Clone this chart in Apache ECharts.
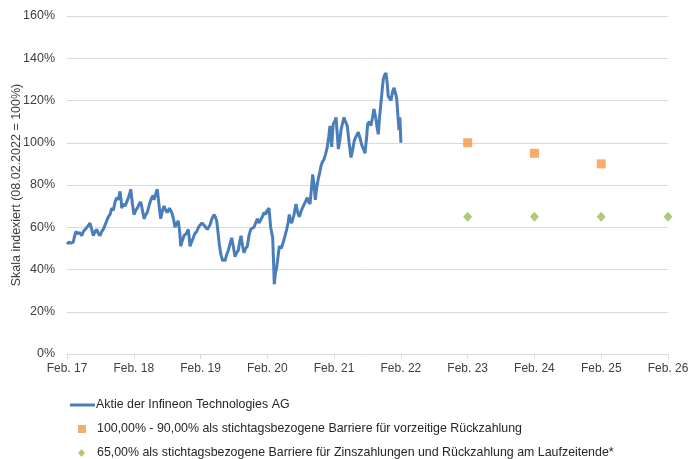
<!DOCTYPE html>
<html>
<head>
<meta charset="utf-8">
<script src="https://cdn.jsdelivr.net/npm/echarts@6/dist/echarts.min.js"></script>
<style>html,body{margin:0;padding:0;background:#fff}#c{width:688px;height:459px}</style>
</head>
<body>
<div id="c"></div>
<script>
// years since 08.02.2017
const stockYears = [0.00,0.03,0.06,0.094,0.115,0.135,0.16,0.19,0.22,0.245,0.27,0.30,0.344,0.37,0.394,0.42,0.445,0.47,0.494,0.52,0.544,0.57,0.594,0.62,0.644,0.67,0.693,0.72,0.744,0.77,0.794,0.81,0.819,0.845,0.869,0.895,0.918,0.94,0.954,0.98,1.003,1.03,1.053,1.08,1.104,1.13,1.153,1.18,1.202,1.235,1.268,1.29,1.303,1.33,1.352,1.38,1.403,1.43,1.453,1.48,1.502,1.535,1.568,1.595,1.617,1.645,1.667,1.69,1.703,1.73,1.752,1.785,1.816,1.83,1.842,1.865,1.891,1.915,1.942,1.97,1.992,2.02,2.052,2.075,2.101,2.12,2.141,2.17,2.201,2.22,2.242,2.26,2.281,2.305,2.332,2.35,2.366,2.39,2.415,2.44,2.466,2.49,2.516,2.54,2.565,2.585,2.606,2.63,2.650,2.675,2.700,2.725,2.751,2.775,2.800,2.825,2.850,2.875,2.900,2.925,2.950,2.975,2.999,3.025,3.050,3.080,3.095,3.104,3.12,3.140,3.16,3.179,3.21,3.239,3.265,3.290,3.31,3.329,3.345,3.364,3.40,3.429,3.455,3.479,3.51,3.538,3.57,3.598,3.62,3.639,3.66,3.679,3.70,3.718,3.74,3.763,3.785,3.804,3.825,3.848,3.875,3.898,3.92,3.938,3.95,3.964,3.975,3.988,4.01,4.028,4.045,4.063,4.085,4.103,4.125,4.148,4.17,4.197,4.225,4.253,4.28,4.302,4.33,4.362,4.39,4.413,4.44,4.462,4.485,4.503,4.53,4.552,4.575,4.597,4.61,4.627,4.645,4.662,4.68,4.702,4.72,4.736,4.755,4.777,4.795,4.811,4.83,4.852,4.875,4.897,4.915,4.937,4.955,4.972,4.985,4.997,5.0];
const stockValues = [52,53,52.5,53,56,58,57,57.5,56,58,58,60,62,59,56,58,59,57,56,58,59,61,63,65,66,69,68,72,74,73,77,73,69,71,70,72,74,76,78,71,66,68,69,71,72,68,64,66,67,71,74,75,73,76,78,70,64,68,70,68,67,69,67,64,60,62,63,57,51,54,56,57,59,55,51,53,55,57,58,60,61,62,61,60,59,60,61,64,66,65,63,58,52,47,44,45,44,47,49,52,55,51,46,48,49,53,56,51,48,50,51,56,59,59,60,62,64,62,62,65,67,66,68,69,60,55,42,33,38,41,46,51,50,53,56,59,62,66,63,62,66,71,67,65,68,70,72,74,72,71,78,85,80,73,79,83,86,89,91,92,95,98,103,108,103,98,104,109,110,112,105,97,101,106,109,112,110,108,100,93,97,101,103,105,102,99,97,95,102,109,110,108,112,116,114,111,107,104,112,119,125,130,132,133,128,122,121,120,124,126,124,121,113,106,112,112,100];
const earlyYears = [6, 7, 8];
const earlyValues = [100, 95, 90];
const couponYears = [6, 7, 8, 9];
const couponValues = [65, 65, 65, 65];
const yearLabels = ['Feb. 17','Feb. 18','Feb. 19','Feb. 20','Feb. 21','Feb. 22','Feb. 23','Feb. 24','Feb. 25','Feb. 26'];
const seriesNames = ['Aktie der Infineon Technologies AG','100,00% - 90,00% als stichtagsbezogene Barriere für vorzeitige Rückzahlung','65,00% als stichtagsbezogene Barriere für Zinszahlungen und Rückzahlung am Laufzeitende*'];

const font = 'Liberation Sans, Arial, sans-serif';
const txt = '#404040';
const chart = echarts.init(document.getElementById('c'), null, {renderer: 'canvas'});
function lg(opts, padLeft) {
  return Object.assign({orient: 'vertical', padding: 0, itemGap: 10,
    textStyle: {fontFamily: font, fontSize: 12.4, color: '#262626', padding: [0, 0, 0, padLeft]}}, opts);
}
chart.setOption({
  animation: false,
  grid: {left: 67, right: 20, top: 16, bottom: 105, containLabel: false, outerBoundsMode: 'none'},
  xAxis: {
    type: 'value', min: 0, max: 9, interval: 1,
    axisLine: {show: true, lineStyle: {color: '#d9d9d9'}},
    axisTick: {show: true, length: 5, lineStyle: {color: '#d9d9d9'}},
    splitLine: {show: false},
    axisLabel: {margin: 9, fontFamily: font, fontSize: 12, color: txt, formatter: v => yearLabels[Math.round(v)]}
  },
  yAxis: {
    type: 'value', min: 0, max: 160, interval: 20,
    name: 'Skala indexiert (08.02.2022 = 100%)', nameLocation: 'middle', nameGap: 44, nameMoveOverlap: false,
    nameTextStyle: {fontFamily: font, fontSize: 12.5, color: txt},
    axisLine: {show: false}, axisTick: {show: false},
    splitLine: {lineStyle: {color: '#d9d9d9'}},
    axisLabel: {margin: 12, fontFamily: font, fontSize: 12.5, color: txt, formatter: '{value}%'}
  },
  legend: [
    lg({left: 70, top: 399, itemWidth: 25, itemHeight: 3, data: [{name: seriesNames[0], icon: 'rect'}]}, -4),
    lg({left: 78, top: 423, itemWidth: 8, itemHeight: 8, data: [{name: seriesNames[1], icon: 'rect'}]}, 6),
    lg({left: 78, top: 447, itemWidth: 7, itemHeight: 8, data: [{name: seriesNames[2], icon: 'diamond'}]}, 7)
  ],
  series: [
    {name: seriesNames[0], type: 'line', symbol: 'none', smooth: false,
     lineStyle: {color: '#4A7EBB', width: 3}, itemStyle: {color: '#4A7EBB'},
     data: stockYears.map((t, i) => [t, stockValues[i]])},
    {name: seriesNames[1], type: 'scatter', symbol: 'rect', symbolSize: 9,
     itemStyle: {color: '#F79646'}, data: earlyYears.map((t, i) => [t, earlyValues[i]])},
    {name: seriesNames[2], type: 'scatter', symbol: 'diamond', symbolSize: [9, 10],
     itemStyle: {color: '#9BBB59'}, data: couponYears.map((t, i) => [t, couponValues[i]])}
  ]
});
</script>
</body>
</html>
